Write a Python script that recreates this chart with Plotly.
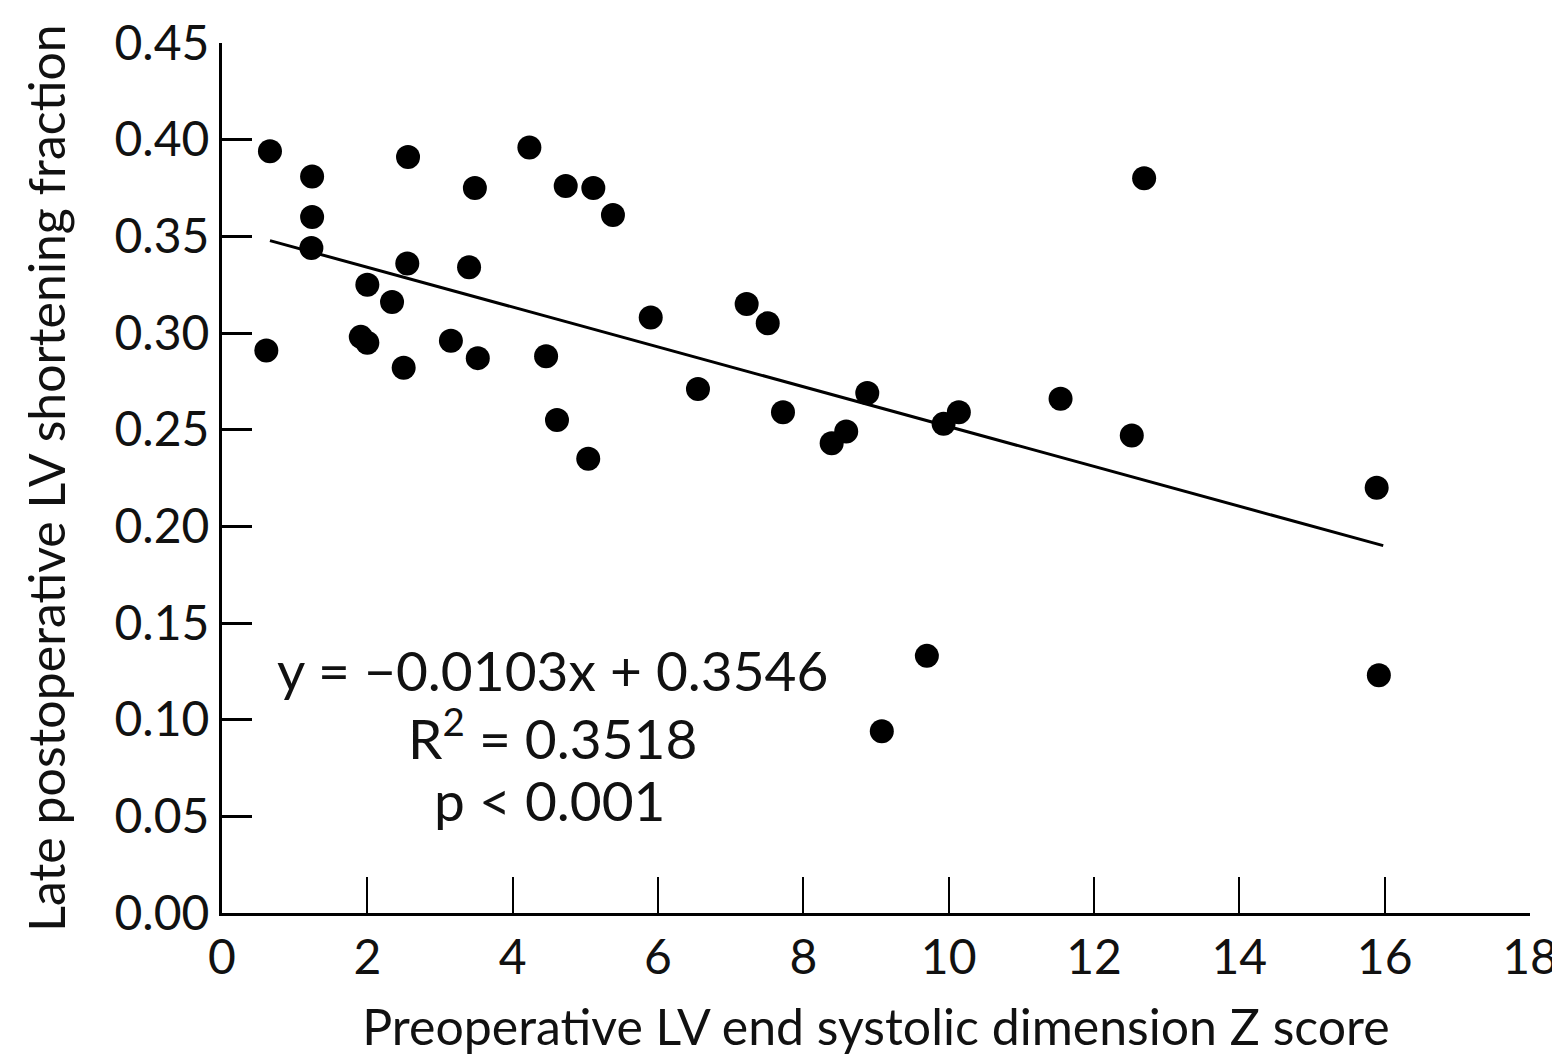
import plotly.graph_objects as go

# Preoperative LV end systolic dimension Z score
z_score = [0.66, 0.61, 1.24, 1.24, 1.23, 2.56, 2.00, 2.34, 2.55, 1.91,
           2.00, 2.50, 3.48, 3.40, 3.15, 3.52, 4.23, 4.73, 5.11, 5.38,
           4.46, 4.61, 5.04, 5.90, 6.55, 7.22, 7.51, 7.72, 8.39, 8.59,
           8.88, 9.08, 9.70, 9.93, 10.14, 11.54, 12.52, 12.69, 15.89, 15.92]
# Late postoperative LV shortening fraction
shortening = [0.394, 0.291, 0.381, 0.360, 0.344, 0.391, 0.325, 0.316, 0.336, 0.298,
              0.295, 0.282, 0.375, 0.334, 0.296, 0.287, 0.396, 0.376, 0.375, 0.361,
              0.288, 0.255, 0.235, 0.308, 0.271, 0.315, 0.305, 0.259, 0.243, 0.249,
              0.269, 0.094, 0.133, 0.253, 0.259, 0.266, 0.247, 0.380, 0.220, 0.123]

slope = -0.0103
intercept = 0.3546
fit_x = [0.66, 15.98]
fit_y = [slope * v + intercept for v in fit_x]

x_ticks = [0, 2, 4, 6, 8, 10, 12, 14, 16, 18]
y_ticks = [0.00, 0.05, 0.10, 0.15, 0.20, 0.25, 0.30, 0.35, 0.40, 0.45]

FONT = "Lato"

fig = go.Figure()
fig.add_trace(go.Scatter(x=fit_x, y=fit_y, mode="lines",
                         line=dict(color="black", width=3), showlegend=False))
fig.add_trace(go.Scatter(x=z_score, y=shortening, mode="markers",
                         marker=dict(color="black", size=24), showlegend=False))

fig.update_layout(
    width=1552, height=1050,
    margin=dict(l=214, r=30, t=35, b=145),
    paper_bgcolor="white", plot_bgcolor="white",
    font=dict(family=FONT, color="#111", size=48),
    xaxis=dict(range=[0, 18], tickvals=x_ticks, ticktext=[str(v) for v in x_ticks],
               ticks="inside", ticklen=36, tickwidth=2, tickcolor="black",
               showline=True, linecolor="black", linewidth=3,
               showgrid=False, zeroline=False, automargin=False,
               tickfont=dict(size=48),
               title=dict(text="Preoperative LV end systolic dimension Z score",
                          font=dict(size=50), standoff=28)),
    yaxis=dict(range=[0, 0.45], tickvals=y_ticks,
               ticktext=[f"{v:.2f}" for v in y_ticks],
               ticks="inside", ticklen=30, tickwidth=3, tickcolor="black",
               showline=True, linecolor="black", linewidth=3,
               showgrid=False, zeroline=False, automargin=False,
               tickfont=dict(size=48),
               title=dict(text="Late postoperative LV shortening fraction",
                          font=dict(size=50), standoff=34)),
)

ann_font = dict(family=FONT, size=55, color="#111")
fig.add_annotation(x=4.55, y=0.1255, xref="x", yref="y", showarrow=False,
                   text="y = \u22120.0103x + 0.3546", font=ann_font)
fig.add_annotation(x=4.55, y=0.0925, xref="x", yref="y", showarrow=False,
                   text="R<sup>2</sup> = 0.3518", font=ann_font)
fig.add_annotation(x=4.5, y=0.0585, xref="x", yref="y", showarrow=False,
                   text="p < 0.001", font=ann_font)

fig.write_html("out.html")
